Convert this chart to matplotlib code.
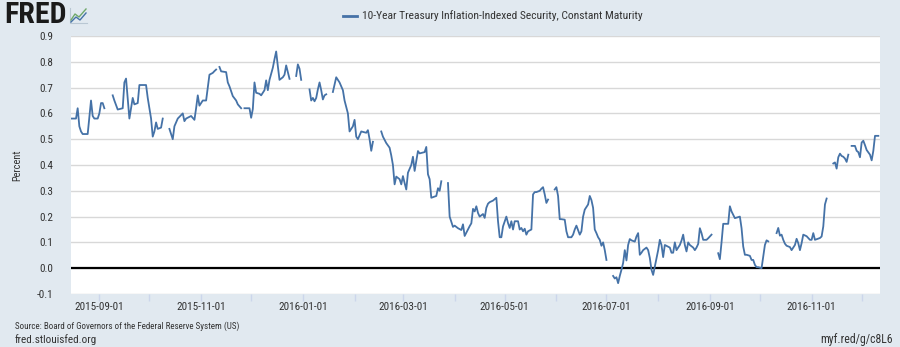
import numpy as np
import pandas as pd
import matplotlib
matplotlib.use("Agg")
import matplotlib.pyplot as plt
import matplotlib.dates as mdates
from matplotlib.lines import Line2D

nan = np.nan

dates = [
    "2015-08-15", "2015-08-18", "2015-08-19", "2015-08-20", "2015-08-21", "2015-08-22", "2015-08-25",
    "2015-08-27", "2015-08-28", "2015-08-29", "2015-08-31", "2015-09-01", "2015-09-02", "2015-09-03",
    "2015-09-04", "2015-09-07",
    "2015-09-09", "2015-09-10", "2015-09-12", "2015-09-15", "2015-09-16", "2015-09-17", "2015-09-19",
    "2015-09-21", "2015-09-22", "2015-09-24", "2015-09-25", "2015-09-29", "2015-09-30", "2015-10-02",
    "2015-10-03", "2015-10-04", "2015-10-05", "2015-10-06", "2015-10-08", "2015-10-09", "2015-10-12",
    "2015-10-13", "2015-10-15", "2015-10-16", "2015-10-17", "2015-10-18", "2015-10-21", "2015-10-22",
    "2015-10-23", "2015-10-26", "2015-10-28", "2015-10-29", "2015-10-30", "2015-10-31", "2015-11-02",
    "2015-11-04", "2015-11-05", "2015-11-06", "2015-11-08", "2015-11-09", "2015-11-10", "2015-11-11",
    "2015-11-12", "2015-11-13", "2015-11-16", "2015-11-17", "2015-11-18", "2015-11-20", "2015-11-22",
    "2015-11-23", "2015-11-25", "2015-11-26",
    "2015-11-27", "2015-11-30", "2015-12-01", "2015-12-02", "2015-12-03", "2015-12-04", "2015-12-06",
    "2015-12-07", "2015-12-08", "2015-12-09", "2015-12-10", "2015-12-11", "2015-12-12", "2015-12-14",
    "2015-12-15", "2015-12-16", "2015-12-17", "2015-12-18", "2015-12-20", "2015-12-21", "2015-12-22",
    "2015-12-23", "2015-12-24", "2015-12-25",
    "2015-12-28", "2015-12-29", "2015-12-30", "2015-12-31", "2016-01-01",
    "2016-01-05", "2016-01-06", "2016-01-07", "2016-01-08", "2016-01-09", "2016-01-10", "2016-01-11",
    "2016-01-12", "2016-01-13", "2016-01-14", "2016-01-15", "2016-01-18",
    "2016-01-19", "2016-01-21", "2016-01-23", "2016-01-25", "2016-01-26", "2016-01-28", "2016-01-29",
    "2016-01-31", "2016-02-01", "2016-02-02", "2016-02-03", "2016-02-05", "2016-02-08", "2016-02-09",
    "2016-02-10", "2016-02-11", "2016-02-12", "2016-02-15",
    "2016-02-17", "2016-02-18", "2016-02-20", "2016-02-22", "2016-02-23", "2016-02-24", "2016-02-25",
    "2016-02-26", "2016-02-28", "2016-02-29", "2016-03-01", "2016-03-02", "2016-03-03", "2016-03-04",
    "2016-03-06", "2016-03-07", "2016-03-08", "2016-03-10", "2016-03-11", "2016-03-14", "2016-03-15",
    "2016-03-16", "2016-03-17", "2016-03-18", "2016-03-21", "2016-03-22", "2016-03-23", "2016-03-24",
    "2016-03-25",
    "2016-03-28", "2016-03-29", "2016-03-30", "2016-03-31", "2016-04-01", "2016-04-03", "2016-04-05",
    "2016-04-06", "2016-04-07", "2016-04-10", "2016-04-11", "2016-04-12", "2016-04-13", "2016-04-14",
    "2016-04-15", "2016-04-16", "2016-04-18", "2016-04-19", "2016-04-20", "2016-04-21", "2016-04-22",
    "2016-04-24", "2016-04-26", "2016-04-27", "2016-04-28", "2016-04-29", "2016-04-30", "2016-05-02",
    "2016-05-03", "2016-05-04", "2016-05-05", "2016-05-06", "2016-05-07", "2016-05-09", "2016-05-10",
    "2016-05-11", "2016-05-12", "2016-05-13", "2016-05-14", "2016-05-15", "2016-05-17", "2016-05-18",
    "2016-05-19", "2016-05-20", "2016-05-22", "2016-05-23", "2016-05-24", "2016-05-25", "2016-05-26",
    "2016-05-27", "2016-05-30",
    "2016-05-31", "2016-06-01", "2016-06-02", "2016-06-03", "2016-06-04", "2016-06-06", "2016-06-07",
    "2016-06-08", "2016-06-10", "2016-06-11", "2016-06-12", "2016-06-13", "2016-06-15", "2016-06-16",
    "2016-06-17", "2016-06-18", "2016-06-20", "2016-06-21", "2016-06-22", "2016-06-23", "2016-06-24",
    "2016-06-25", "2016-06-26", "2016-06-27", "2016-06-28", "2016-06-29", "2016-06-30", "2016-07-01",
    "2016-07-04",
    "2016-07-05", "2016-07-06", "2016-07-07", "2016-07-08", "2016-07-09", "2016-07-10", "2016-07-11",
    "2016-07-12", "2016-07-13", "2016-07-14", "2016-07-15", "2016-07-16", "2016-07-18", "2016-07-19",
    "2016-07-20", "2016-07-21", "2016-07-22", "2016-07-23", "2016-07-25", "2016-07-26", "2016-07-27",
    "2016-07-28", "2016-07-29", "2016-07-30", "2016-07-31", "2016-08-01", "2016-08-02", "2016-08-03",
    "2016-08-04", "2016-08-05", "2016-08-08", "2016-08-09", "2016-08-10", "2016-08-11", "2016-08-12",
    "2016-08-14", "2016-08-15", "2016-08-16", "2016-08-17", "2016-08-18", "2016-08-19", "2016-08-20",
    "2016-08-22", "2016-08-23", "2016-08-24", "2016-08-25", "2016-08-26", "2016-08-27", "2016-08-28",
    "2016-08-30", "2016-08-31", "2016-09-02", "2016-09-05",
    "2016-09-06", "2016-09-07", "2016-09-08", "2016-09-09", "2016-09-12", "2016-09-13", "2016-09-14",
    "2016-09-15", "2016-09-16", "2016-09-17", "2016-09-19", "2016-09-20", "2016-09-21", "2016-09-22",
    "2016-09-23", "2016-09-25", "2016-09-26", "2016-09-27", "2016-09-28", "2016-09-29", "2016-09-30",
    "2016-10-02", "2016-10-03", "2016-10-04", "2016-10-05", "2016-10-06", "2016-10-10",
    "2016-10-11", "2016-10-12", "2016-10-13", "2016-10-14", "2016-10-15", "2016-10-16", "2016-10-17",
    "2016-10-19", "2016-10-20", "2016-10-22", "2016-10-23", "2016-10-24", "2016-10-25", "2016-10-26",
    "2016-10-27", "2016-10-29", "2016-10-31", "2016-11-01", "2016-11-02", "2016-11-03", "2016-11-06",
    "2016-11-07", "2016-11-08", "2016-11-09", "2016-11-10", "2016-11-11",
    "2016-11-14", "2016-11-15", "2016-11-16", "2016-11-17", "2016-11-18", "2016-11-19", "2016-11-20",
    "2016-11-21", "2016-11-22", "2016-11-23", "2016-11-24",
    "2016-11-25", "2016-11-27", "2016-11-28", "2016-11-29", "2016-11-30", "2016-12-01", "2016-12-02",
    "2016-12-03", "2016-12-04", "2016-12-06", "2016-12-07", "2016-12-08", "2016-12-09", "2016-12-11",
]

values = [
    0.58, 0.58, 0.62, 0.55, 0.53, 0.52, 0.52,
    0.65, 0.59, 0.58, 0.58, 0.60, 0.64, 0.64,
    0.62, nan,
    0.67, 0.65, 0.615, 0.62, 0.72, 0.735, 0.58,
    0.66, 0.635, 0.64, 0.71, 0.71, 0.66, 0.58,
    0.51, 0.53, 0.565, 0.54, 0.545, 0.58, nan,
    0.54, 0.50, 0.55, 0.565, 0.58, 0.60, 0.57,
    0.58, 0.59, 0.575, 0.62, 0.67, 0.63, 0.65,
    0.65, 0.70, 0.75, 0.757, 0.764, 0.77, nan,
    0.78, 0.763, 0.76, 0.72, 0.705, 0.667, 0.65,
    0.635, 0.62, nan,
    0.62, 0.62, 0.583, 0.617, 0.72, 0.68, 0.676,
    0.67, 0.68, 0.69, 0.728, 0.69, 0.73, 0.777,
    0.81, 0.84, 0.783, 0.73, 0.74, 0.75, 0.786,
    0.76, 0.734, nan,
    0.745, 0.79, 0.773, 0.73, nan,
    0.693, 0.65, 0.66, 0.647, 0.66, 0.693, 0.72,
    0.69, 0.654, 0.67, 0.674, nan,
    0.683, 0.74, 0.72, 0.69, 0.65, 0.60, 0.53,
    0.55, 0.575, 0.51, 0.50, 0.53, 0.525, 0.535,
    0.50, 0.455, 0.49, nan,
    0.53, 0.51, 0.485, 0.467, 0.437, 0.40, 0.325,
    0.355, 0.345, 0.325, 0.357, 0.33, 0.305, 0.37,
    0.40, 0.432, 0.377, 0.454, 0.445, 0.45, 0.47,
    0.364, 0.345, 0.273, 0.28, 0.31, 0.30, 0.337,
    nan,
    0.33, 0.20, 0.18, 0.16, 0.165, 0.155, 0.148,
    0.17, 0.125, 0.163, 0.174, 0.23, 0.22, 0.24,
    0.214, 0.20, 0.21, 0.195, 0.234, 0.25, 0.256,
    0.262, 0.273, 0.182, 0.12, 0.12, 0.162, 0.20,
    0.175, 0.156, 0.182, 0.15, 0.182, 0.182, 0.15,
    0.156, 0.143, 0.153, 0.13, 0.143, 0.15, 0.286,
    0.295, 0.295, 0.30, 0.308, 0.314, 0.286, 0.253,
    0.266, nan,
    0.305, 0.314, 0.28, 0.19, 0.19, 0.188, 0.143,
    0.12, 0.12, 0.13, 0.15, 0.165, 0.13, 0.143,
    0.20, 0.227, 0.247, 0.28, 0.264, 0.234, 0.15,
    0.136, 0.12, 0.11, 0.087, 0.10, 0.07, 0.032,
    nan,
    -0.03, -0.04, -0.035, -0.058, -0.03, -0.006, 0.02,
    0.07, 0.03, 0.09, 0.113, 0.108, 0.103, 0.123,
    0.136, 0.052, 0.06, 0.07, 0.08, 0.07, 0.04,
    -0.006, -0.026, 0.006, 0.04, 0.07, 0.11, 0.09,
    0.043, 0.09, 0.08, 0.06, 0.06, 0.10, 0.07,
    0.09, 0.107, 0.13, 0.09, 0.065, 0.10, 0.09,
    0.08, 0.07, 0.08, 0.094, 0.155, 0.136, 0.11,
    0.11, 0.116, 0.13, nan,
    0.058, 0.035, 0.10, 0.172, 0.172, 0.24, 0.22,
    0.207, 0.194, 0.196, 0.20, 0.155, 0.084, 0.052,
    0.052, 0.048, 0.032, 0.032, 0.013, 0.004, 0.004,
    0.0, 0.045, 0.09, 0.108, 0.104, nan,
    0.136, 0.156, 0.126, 0.13, 0.11, 0.095, 0.087,
    0.082, 0.07, 0.09, 0.114, 0.097, 0.07, 0.097,
    0.13, 0.124, 0.11, 0.11, 0.136, 0.11, 0.117,
    0.123, 0.162, 0.247, 0.27, nan,
    0.406, 0.41, 0.386, 0.43, 0.444, 0.435, 0.432,
    0.425, 0.412, 0.44, nan,
    0.474, 0.474, 0.455, 0.45, 0.43, 0.487, 0.494,
    0.477, 0.458, 0.44, 0.418, 0.455, 0.513, 0.513,
]

series_name = "10-Year Treasury Inflation-Indexed Security, Constant Maturity"
y_ticks = [-0.1, 0.0, 0.1, 0.2, 0.3, 0.4, 0.5, 0.6, 0.7, 0.8, 0.9]

BG = "#e1e9f0"
LINE = "#4572a7"
TXT = "#333333"
COND = ["Roboto Condensed", "DejaVu Sans"]

x = pd.to_datetime(dates)
y = np.array(values, dtype=float)

fig = plt.figure(figsize=(9.0, 3.47), dpi=100, facecolor=BG)
ax = fig.add_axes([71 / 900, 53 / 347, (880 - 71) / 900, (294 - 36) / 347])
ax.set_facecolor("white")

ax.plot(x, y, color=LINE, lw=1.3, solid_joinstyle="round", zorder=3)
ax.axhline(0, color="black", lw=1.6, zorder=2)

ax.set_ylim(-0.1, 0.9)
ax.set_yticks(y_ticks)
ax.set_yticklabels([f"{t:.1f}" for t in y_ticks], family=COND, fontsize=8, color=TXT)
ax.yaxis.grid(True, color="#d8d8d8", lw=1.0, zorder=1)
ax.tick_params(axis="y", length=0, pad=13)

ax.set_xlim(pd.Timestamp("2015-08-15"), pd.Timestamp("2016-12-12"))
ax.xaxis.set_major_locator(mdates.MonthLocator(bymonth=[1, 3, 5, 7, 9, 11]))
ax.xaxis.set_major_formatter(mdates.DateFormatter("%Y-%m-%d"))
ax.xaxis.set_minor_locator(mdates.MonthLocator())
ax.tick_params(axis="x", which="both", length=5, width=1, color="#ccd6eb", pad=1,
               labelsize=8, labelcolor=TXT)
for lab in ax.get_xticklabels():
    lab.set_family(COND)

for s in ax.spines.values():
    s.set_visible(False)

ax.set_ylabel("Percent", family=COND, fontsize=7.5, color=TXT)
ax.yaxis.set_label_coords(-0.0606, 0.5)

# legend / title
fig.add_artist(Line2D([343 / 900, 357 / 900], [1 - 16 / 347, 1 - 16 / 347], color=LINE, lw=2))
fig.text(362 / 900, 1 - 16 / 347, series_name, family=COND, fontsize=8.25, color=TXT,
         va="center", ha="left")

# FRED logo
fig.text(4 / 900, 1 - 15 / 347, "FRED", family=["Roboto Condensed", "DejaVu Sans"], fontsize=21.5,
         fontweight="bold", color="#1a1a1a", va="center", ha="left")
ix0, iy0 = 70 / 900, 1 - 23 / 347
fig.add_artist(Line2D([ix0, ix0, ix0 + 17 / 900], [iy0 + 15 / 347, iy0, iy0],
                      color="#b9c7d3", lw=0.8))
fig.add_artist(Line2D([ix0 + 1 / 900, ix0 + 5 / 900, ix0 + 9 / 900, ix0 + 16 / 900],
                      [iy0 + 3 / 347, iy0 + 9 / 347, iy0 + 6 / 347, iy0 + 14 / 347],
                      color="#6fa86a", lw=1.0))
fig.add_artist(Line2D([ix0 + 1 / 900, ix0 + 6 / 900, ix0 + 10 / 900, ix0 + 16 / 900],
                      [iy0 + 1 / 347, iy0 + 6 / 347, iy0 + 3 / 347, iy0 + 10 / 347],
                      color="#4572a7", lw=1.0))

# footer
fig.text(15 / 900, 1 - 326 / 347, "Source: Board of Governors of the Federal Reserve System (US)",
         family=COND, fontsize=6.5, color=TXT, va="center", ha="left")
fig.text(15 / 900, 1 - 340 / 347, "fred.stlouisfed.org", family=COND, fontsize=8.1,
         color=TXT, va="center", ha="left")
fig.text(893 / 900, 1 - 340 / 347, "myf.red/g/c8L6", family=COND, fontsize=8.5,
         color=TXT, va="center", ha="right")

fig.savefig("out.png", dpi=100, facecolor=BG)
